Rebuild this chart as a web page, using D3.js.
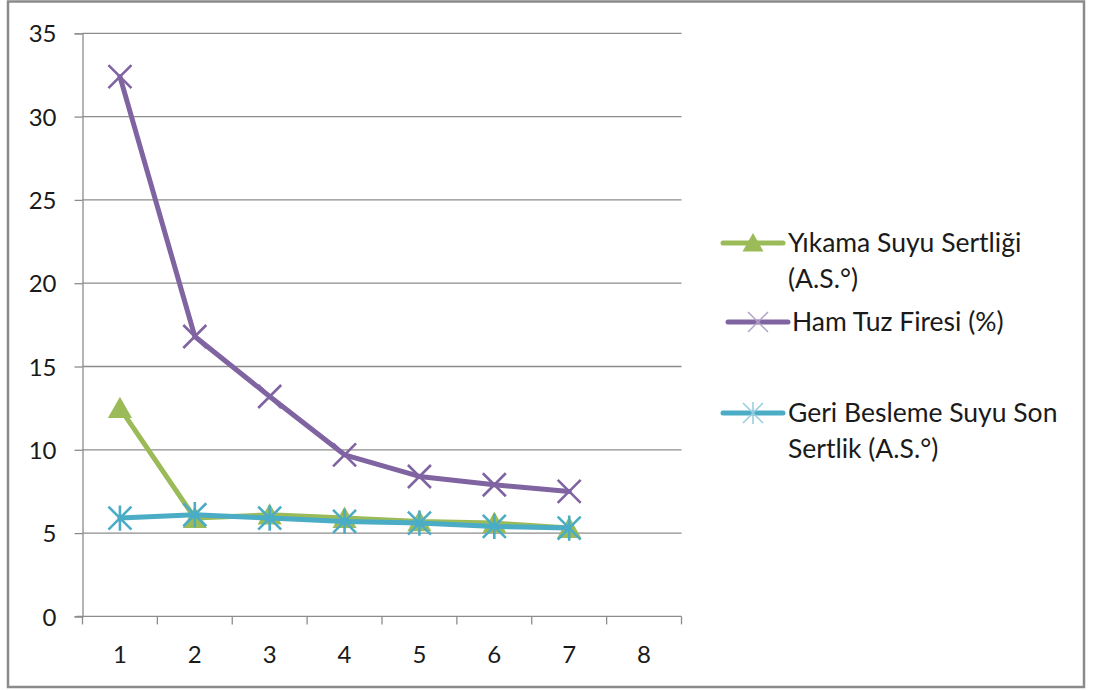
<!DOCTYPE html>
<html>
<head>
<meta charset="utf-8">
<script src="https://cdn.jsdelivr.net/npm/d3@7"></script>
<style>
  html, body { margin: 0; padding: 0; background: #fff; }
  svg text { font-family: Lato, "Open Sans", sans-serif; fill: #1a1a1a; }
</style>
</head>
<body>
<svg id="chart" width="1093" height="690"></svg>
<script>
// Categories (x axis) and series values
const categories = [1, 2, 3, 4, 5, 6, 7, 8];
const washHardness = [12.5, 5.9, 6.1, 5.9, 5.7, 5.6, 5.3];      // Yıkama Suyu Sertliği (A.S.°)
const rawSaltLoss = [32.4, 16.8, 13.2, 9.7, 8.4, 7.9, 7.5];     // Ham Tuz Firesi (%)
const feedbackHardness = [5.9, 6.1, 5.9, 5.7, 5.6, 5.4, 5.3];   // Geri Besleme Suyu Son Sertlik (A.S.°)
const yTicks = [0, 5, 10, 15, 20, 25, 30, 35];

const series = [
  { name: ["Yıkama Suyu Sertliği", "(A.S.°)"], values: washHardness, color: "#9BBB59", marker: "triangle" },
  { name: ["Ham Tuz Firesi (%)"], values: rawSaltLoss, color: "#8064A2", marker: "x" },
  { name: ["Geri Besleme Suyu Son", "Sertlik (A.S.°)"], values: feedbackHardness, color: "#4BACC6", marker: "star" }
];

const svg = d3.select("#chart");
const plot = { left: 82.5, right: 681.5, top: 33.3, bottom: 616.4 };

// Outer chart frame
svg.append("rect")
  .attr("x", 8).attr("y", 1.5).attr("width", 1076).attr("height", 685.5)
  .attr("fill", "#fff").attr("stroke", "#8a8a8a").attr("stroke-width", 2.5);

const x = d3.scaleBand().domain(categories).range([plot.left, plot.right]);
const y = d3.scaleLinear().domain([0, 35]).range([plot.bottom, plot.top]);
const cx = (i) => x(categories[i]) + x.bandwidth() / 2;

// Horizontal gridlines
svg.append("g").selectAll("line").data(yTicks.filter(t => t > 0)).join("line")
  .attr("x1", plot.left).attr("x2", plot.right)
  .attr("y1", d => y(d)).attr("y2", d => y(d))
  .attr("stroke", "#8c8c8c").attr("stroke-width", 1.3);

// Y axis
const yAxis = svg.append("g").attr("transform", `translate(${plot.left},0)`)
  .call(d3.axisLeft(y).tickValues(yTicks).tickSize(8).tickPadding(18));
yAxis.select(".domain").attr("stroke", "#8c8c8c").attr("stroke-width", 1.3);
yAxis.selectAll(".tick line").attr("stroke", "#8c8c8c").attr("stroke-width", 1.3);
yAxis.selectAll(".tick text").attr("font-size", 24).attr("fill", "#1a1a1a")
  .attr("dy", "0.36em")
  .style("font-family", "Lato, sans-serif");

// X axis with ticks between categories
const xAxisG = svg.append("g");
xAxisG.append("line")
  .attr("x1", plot.left - 6).attr("x2", plot.right)
  .attr("y1", plot.bottom).attr("y2", plot.bottom)
  .attr("stroke", "#8c8c8c").attr("stroke-width", 1.3);
const bounds = categories.map(c => x(c)).concat([x(categories[categories.length - 1]) + x.bandwidth()]);
xAxisG.selectAll("line.tk").data(bounds).join("line").attr("class", "tk")
  .attr("x1", d => d).attr("x2", d => d)
  .attr("y1", plot.bottom).attr("y2", plot.bottom + 8)
  .attr("stroke", "#8c8c8c").attr("stroke-width", 1.3);
xAxisG.selectAll("text").data(categories).join("text")
  .attr("x", d => x(d) + x.bandwidth() / 2).attr("y", 663)
  .attr("text-anchor", "middle").attr("font-size", 24)
  .text(d => d);

// Marker shapes
function drawMarker(g, type, color, size, light) {
  const h = size / 2;
  if (type === "triangle") {
    g.append("path")
      .attr("d", `M0,${-h} L${h * 1.05},${h * 0.85} L${-h * 1.05},${h * 0.85} Z`)
      .attr("fill", color);
  } else if (type === "x") {
    g.append("path")
      .attr("d", `M${-h},${-h} L${h},${h} M${-h},${h} L${h},${-h}`)
      .attr("stroke", light ? "#b3a2c7" : color).attr("stroke-width", light ? 1.5 : 2.6).attr("fill", "none");
  } else if (type === "star") {
    g.append("path")
      .attr("d", `M${-h},${-h} L${h},${h} M${-h},${h} L${h},${-h} M0,${-h * 1.1} L0,${h * 1.1}`)
      .attr("stroke", light ? "#93cddd" : color).attr("stroke-width", light ? 1.5 : 2.6).attr("fill", "none");
  }
}

const line = d3.line().x((d, i) => cx(i)).y(d => y(d));

series.forEach(s => {
  const g = svg.append("g");
  g.append("path").datum(s.values)
    .attr("d", line).attr("fill", "none")
    .attr("stroke", s.color).attr("stroke-width", 5)
    .attr("stroke-linejoin", "round").attr("stroke-linecap", "round");
  s.values.forEach((v, i) => {
    const m = g.append("g").attr("transform", `translate(${cx(i)},${y(v)})`);
    drawMarker(m, s.marker, s.color, 23, false);
  });
});

// Legend
const legendRows = [
  { s: series[0], y: 243, x0: 723, x1: 783, tx: 788 },
  { s: series[1], y: 322, x0: 728, x1: 788, tx: 792 },
  { s: series[2], y: 413, x0: 723, x1: 783, tx: 788 }
];
legendRows.forEach(r => {
  const g = svg.append("g");
  g.append("line").attr("x1", r.x0).attr("x2", r.x1).attr("y1", r.y).attr("y2", r.y)
    .attr("stroke", r.s.color).attr("stroke-width", 5).attr("stroke-linecap", "round");
  const m = g.append("g").attr("transform", `translate(${(r.x0 + r.x1) / 2},${r.y})`);
  drawMarker(m, r.s.marker, r.s.color, 20, true);
  r.s.name.forEach((t, k) => {
    g.append("text").attr("x", r.tx).attr("y", r.y + 9 + k * 35.5)
      .attr("font-size", 26.5).text(t);
  });
});
</script>
</body>
</html>
